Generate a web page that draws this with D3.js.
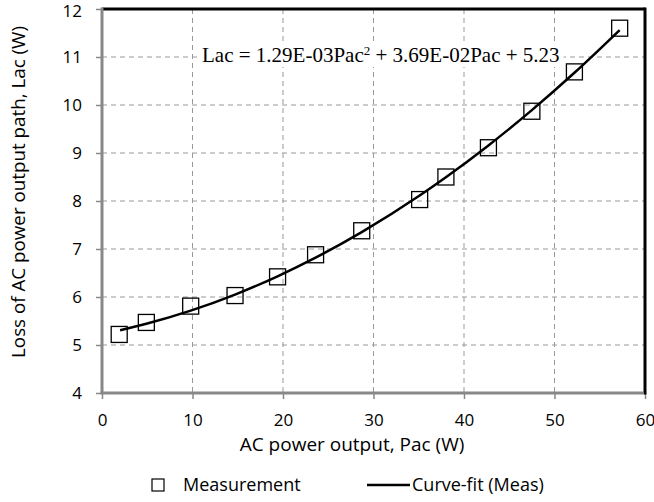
<!DOCTYPE html>
<html>
<head>
<meta charset="utf-8">
<script src="https://cdn.jsdelivr.net/npm/d3@7"></script>
<style>
  html, body { margin: 0; padding: 0; background: #fff; }
  svg { display: block; }
  .tick-label { font-family: "Open Sans", Lato, sans-serif; font-size: 17px; fill: #000; }
</style>
</head>
<body>
<svg id="chart" width="654" height="502"></svg>
<script>
const pac = [1.9, 4.9, 9.8, 14.7, 19.4, 23.6, 28.7, 35.1, 38.0, 42.7, 47.5, 52.2, 57.2]
const lac = [5.22, 5.47, 5.81, 6.03, 6.42, 6.88, 7.38, 8.03, 8.50, 9.11, 9.87, 10.69, 11.60]
// fit coefficients printed on the chart: a*P^2 + b*P + c
const fitCoef = [1.29e-3, 3.69e-2, 5.23]
const xTicks = [0, 10, 20, 30, 40, 50, 60]
const yTicks = [4, 5, 6, 7, 8, 9, 10, 11, 12]

const svg = d3.select('#chart')
const margin = { left: 102, top: 9, right: 9, bottom: 109 }
const W = 654, H = 502
const font = '"Open Sans", Lato, sans-serif'
const x = d3.scaleLinear().domain([0, 60]).range([margin.left, W - margin.right])
const y = d3.scaleLinear().domain([4, 12]).range([H - margin.bottom, margin.top])

// grid
const grid = svg.append('g').attr('stroke', '#999').attr('stroke-width', 1).attr('stroke-dasharray', '5,4')
grid.selectAll('.vg').data(xTicks.slice(1, -1)).enter().append('line')
  .attr('x1', d => x(d)).attr('x2', d => x(d))
  .attr('y1', y(12)).attr('y2', y(4))
grid.selectAll('.hg').data(yTicks.slice(1, -1)).enter().append('line')
  .attr('x1', x(0)).attr('x2', x(60))
  .attr('y1', d => y(d)).attr('y2', d => y(d))

// axes (left/bottom gray, top/right black)
const xAxis = svg.append('g').attr('transform', `translate(0,${y(4)})`)
  .call(d3.axisBottom(x).tickValues(xTicks).tickSize(6).tickPadding(15))
const yAxis = svg.append('g').attr('transform', `translate(${x(0)},0)`)
  .call(d3.axisLeft(y).tickValues(yTicks).tickSize(6).tickPadding(14))
;[xAxis, yAxis].forEach(a => {
  a.select('.domain').remove()
  a.selectAll('.tick line').attr('stroke', '#888').attr('stroke-width', 1.5)
  a.selectAll('.tick text').attr('class', 'tick-label').attr('font-size', null).attr('font-family', null)
})
// top label sits a touch lower, as in the original
yAxis.selectAll('.tick text').filter(d => d === 12).attr('dy', '0.45em')
svg.append('line').attr('x1', x(60)).attr('x2', x(0)).attr('y1', y(12)).attr('y2', y(12))
  .attr('stroke', '#000').attr('stroke-width', 3)
svg.append('line').attr('x1', x(60)).attr('x2', x(60)).attr('y1', y(12) - 1.5).attr('y2', y(4) + 1.5)
  .attr('stroke', '#000').attr('stroke-width', 3)
svg.append('line').attr('x1', x(0)).attr('x2', x(0)).attr('y1', y(12) - 1.5).attr('y2', y(4))
  .attr('stroke', '#888').attr('stroke-width', 3)
svg.append('line').attr('x1', x(0) - 1.5).attr('x2', x(60) - 1.5).attr('y1', y(4)).attr('y2', y(4))
  .attr('stroke', '#888').attr('stroke-width', 3)

// equation label with white box
const eqG = svg.append('g')
const eq = eqG.append('text')
  .attr('x', 202).attr('y', 62)
  .attr('font-family', '"Liberation Serif", "Times New Roman", serif')
  .attr('font-size', 21)
eq.append('tspan').text('Lac = 1.29E-03Pac')
eq.append('tspan').attr('font-size', 13).attr('dy', -7).text('2')
eq.append('tspan').attr('dy', 7).text(' + 3.69E-02Pac + 5.23')
const bb = eq.node().getBBox()
eqG.insert('rect', 'text').attr('x', bb.x - 4).attr('y', bb.y).attr('width', bb.width + 8).attr('height', bb.height)
  .attr('fill', '#fff')

// fit curve
const fitPts = pac.map(p => [p, fitCoef[0] * p * p + fitCoef[1] * p + fitCoef[2]])
fitPts[0] = [2.0, fitCoef[0] * 4 + fitCoef[1] * 2 + fitCoef[2]]
const line = d3.line().x(d => x(d[0])).y(d => y(d[1])).curve(d3.curveMonotoneX)

// markers
const s = 16
svg.append('g').selectAll('rect').data(pac).enter().append('rect')
  .attr('x', d => x(d) - s / 2).attr('y', (d, i) => y(lac[i]) - s / 2)
  .attr('width', s).attr('height', s)
  .attr('fill', 'none').attr('stroke', '#000').attr('stroke-width', 1.3)

svg.append('path').datum(fitPts).attr('d', line)
  .attr('fill', 'none').attr('stroke', '#000').attr('stroke-width', 2.5)

// axis titles
svg.append('text').attr('x', 352).attr('y', 451).attr('text-anchor', 'middle')
  .attr('font-family', font).attr('font-size', 19)
  .text('AC power output, Pac (W)')
svg.append('text').attr('transform', 'translate(25,192) rotate(-90)').attr('text-anchor', 'middle')
  .attr('font-family', font).attr('font-size', 18.8)
  .text('Loss of AC power output path, Lac (W)')

// legend
const lg = svg.append('g').attr('font-family', font).attr('font-size', 18)
lg.append('rect').attr('x', 152).attr('y', 479).attr('width', 12).attr('height', 12)
  .attr('fill', 'none').attr('stroke', '#000').attr('stroke-width', 1.2)
lg.append('text').attr('x', 183).attr('y', 491).text('Measurement')
lg.append('line').attr('x1', 367).attr('x2', 410).attr('y1', 485).attr('y2', 485)
  .attr('stroke', '#000').attr('stroke-width', 2.5)
lg.append('text').attr('x', 412).attr('y', 491).text('Curve-fit (Meas)')
</script>
</body>
</html>
